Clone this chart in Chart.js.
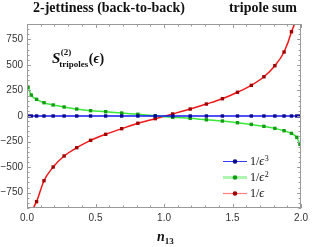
<!DOCTYPE html>
<html><head><meta charset="utf-8">
<script src="https://cdn.jsdelivr.net/npm/chart.js@4"></script>
<style>html,body{margin:0;padding:0;background:#fff}canvas{display:block}</style>
</head><body>
<canvas id="c" width="312" height="247"></canvas>
<script>
// n13 sample points
const nValues = [0.0079,0.031,0.070,0.124,0.191,0.271,0.363,0.464,0.574,0.691,0.809,0.936,1.063,1.191,1.309,1.426,1.536,1.637,1.729,1.809,1.876,1.930,1.969,1.992];
// 1/eps^3 coefficient
const eps3Values = [0,0,0,0,0,0,0,0,0,0,0,0,0,0,0,0,0,0,0,0,0,0,0,0];
// 1/eps^2 coefficient
const eps2Values = [281,205,163,130,108,88,68,52,42,29,17,3,-13,-23,-37,-49,-66,-82,-101,-121,-144,-170,-209,-277];
// 1/eps coefficient
const eps1Values = [-2400,-1100,-838,-633,-499,-391,-310,-238,-179,-124,-71,-26,20,68,117,169,232,300,384,492,626,824,1150,2400];
const xTicks = [0,0.5,1,1.5,2];
const yTicks = [-750,-500,-250,0,250,500,750];
const legendLabels = ['3','2',''];

const serif = '"Liberation Serif","DejaVu Serif",serif';
const sans = '"Liberation Sans",Arial,sans-serif';

function pts(vals){ return nValues.map((n,i)=>({x:n,y:vals[i]})); }

const series = [
  {vals:eps3Values, line:'#1515f0', mark:'#0a0a90', legLine:'#3a3aff', legW:1},
  {vals:eps2Values, line:'#3ae83a', mark:'#149a14', legLine:'#b0f5b0', legW:3},
  {vals:eps1Values, line:'#f01818', mark:'#a00000', legLine:'#ff8080', legW:1.2}
];

const decor = {
  id:'decor',
  afterDraw(chart){
    const ctx = chart.ctx, a = chart.chartArea;
    const xs = chart.scales.x, ys = chart.scales.y;
    ctx.save();
    ctx.strokeStyle = '#9a9a9a';
    ctx.lineWidth = 1;
    ctx.strokeRect(Math.round(a.left)+0.5, Math.round(a.top)+0.5, Math.round(a.right-a.left)-1, Math.round(a.bottom-a.top)-1);
    ctx.beginPath();
    for (let k=0;k<=20;k++){
      const v = k/10, px = Math.round(xs.getPixelForValue(v))+0.5;
      const L = (k%5===0)?4:2.5;
      ctx.moveTo(px,a.bottom); ctx.lineTo(px,a.bottom-L);
      ctx.moveTo(px,a.top); ctx.lineTo(px,a.top+L);
    }
    for (let v=-900; v<=900; v+=50){
      const py = Math.round(ys.getPixelForValue(v))+0.5;
      const L = (v%250===0)?4:2.5;
      ctx.moveTo(a.left,py); ctx.lineTo(a.left+L,py);
      ctx.moveTo(a.right,py); ctx.lineTo(a.right-L,py);
    }
    ctx.stroke();

    ctx.fillStyle = '#111';
    ctx.textBaseline = 'alphabetic';
    ctx.font = 'bold 14px '+serif;
    ctx.textAlign = 'left';
    ctx.fillText('2-jettiness (back-to-back)', 33, 12);
    ctx.textAlign = 'right';
    ctx.fillText('tripole sum', 297, 12);
    ctx.textAlign = 'left';

    // S label
    let x = 52;
    ctx.font = 'italic bold 15px '+serif;
    ctx.fillText('S', x, 63);
    let w = ctx.measureText('S').width;
    ctx.font = 'bold 9px '+serif;
    ctx.fillText('(2)', x+w+0.5, 55);
    ctx.fillText('tripoles', x+w-1, 67);
    const w2 = ctx.measureText('tripoles').width;
    x = x+w-1+w2+0.5;
    ctx.font = 'bold 14px '+serif;
    ctx.fillText('(', x, 63); x += ctx.measureText('(').width;
    ctx.font = 'italic bold 14px '+serif;
    ctx.fillText('\u03F5', x, 63); x += ctx.measureText('\u03F5').width;
    ctx.font = 'bold 14px '+serif;
    ctx.fillText(')', x, 63);

    // x-axis title
    ctx.font = 'italic bold 14px '+serif;
    ctx.fillText('n', 157, 241);
    const wn = ctx.measureText('n').width;
    ctx.font = 'bold 9px '+serif;
    ctx.fillText('13', 157+wn, 244);

    // legend
    const rows = [161,177,193];
    series.forEach((s,i)=>{
      const y = rows[i];
      ctx.strokeStyle = s.legLine; ctx.lineWidth = s.legW;
      ctx.beginPath(); ctx.moveTo(223,y+0.5); ctx.lineTo(247,y+0.5); ctx.stroke();
      ctx.fillStyle = s.mark;
      ctx.beginPath(); ctx.arc(235,y+0.5,2.3,0,Math.PI*2); ctx.fill();
      ctx.fillStyle = '#111';
      let tx = 250;
      ctx.font = '12px '+serif;
      ctx.fillText('1/', tx, y+4); tx += ctx.measureText('1/').width;
      ctx.font = 'italic 12px '+serif;
      ctx.fillText('\u03F5', tx, y+4); tx += ctx.measureText('\u03F5').width;
      if (legendLabels[i]){ ctx.font = '8px '+serif; ctx.fillText(legendLabels[i], tx+0.5, y-0.5); }
    });
    ctx.restore();
  }
};

new Chart(document.getElementById('c'), {
  type:'line',
  data:{datasets: series.map(s=>({
    data: pts(s.vals),
    borderColor: s.line, borderWidth: 1.5,
    pointStyle:'rect', pointRadius:2.4, pointBackgroundColor:s.mark, pointBorderColor:s.mark, pointBorderWidth:0,
    cubicInterpolationMode:'monotone', fill:false
  }))},
  options:{
    responsive:false, animation:false, devicePixelRatio:1,
    layout:{padding:{top:24,right:8,left:0,bottom:0}},
    plugins:{legend:{display:false}, tooltip:{enabled:false}},
    scales:{
      x:{type:'linear', min:0, max:2,
        grid:{display:false, drawTicks:false}, border:{display:false},
        afterBuildTicks:s=>{s.ticks = xTicks.map(v=>({value:v}));},
        afterFit:s=>{s.height = 39;},
        ticks:{padding:4, color:'#333', font:{family:sans, size:10}, maxRotation:0, callback:v=>v.toFixed(1)}},
      y:{type:'linear', min:-900, max:900,
        grid:{display:false, drawTicks:false}, border:{display:false},
        afterBuildTicks:s=>{s.ticks = yTicks.map(v=>({value:v}));},
        afterFit:s=>{s.width = 27;},
        ticks:{padding:4, color:'#333', font:{family:sans, size:10}, callback:v=>(v<0?'\u2212'+(-v):String(v))}}
    }
  },
  plugins:[decor]
});
</script>
</body></html>
